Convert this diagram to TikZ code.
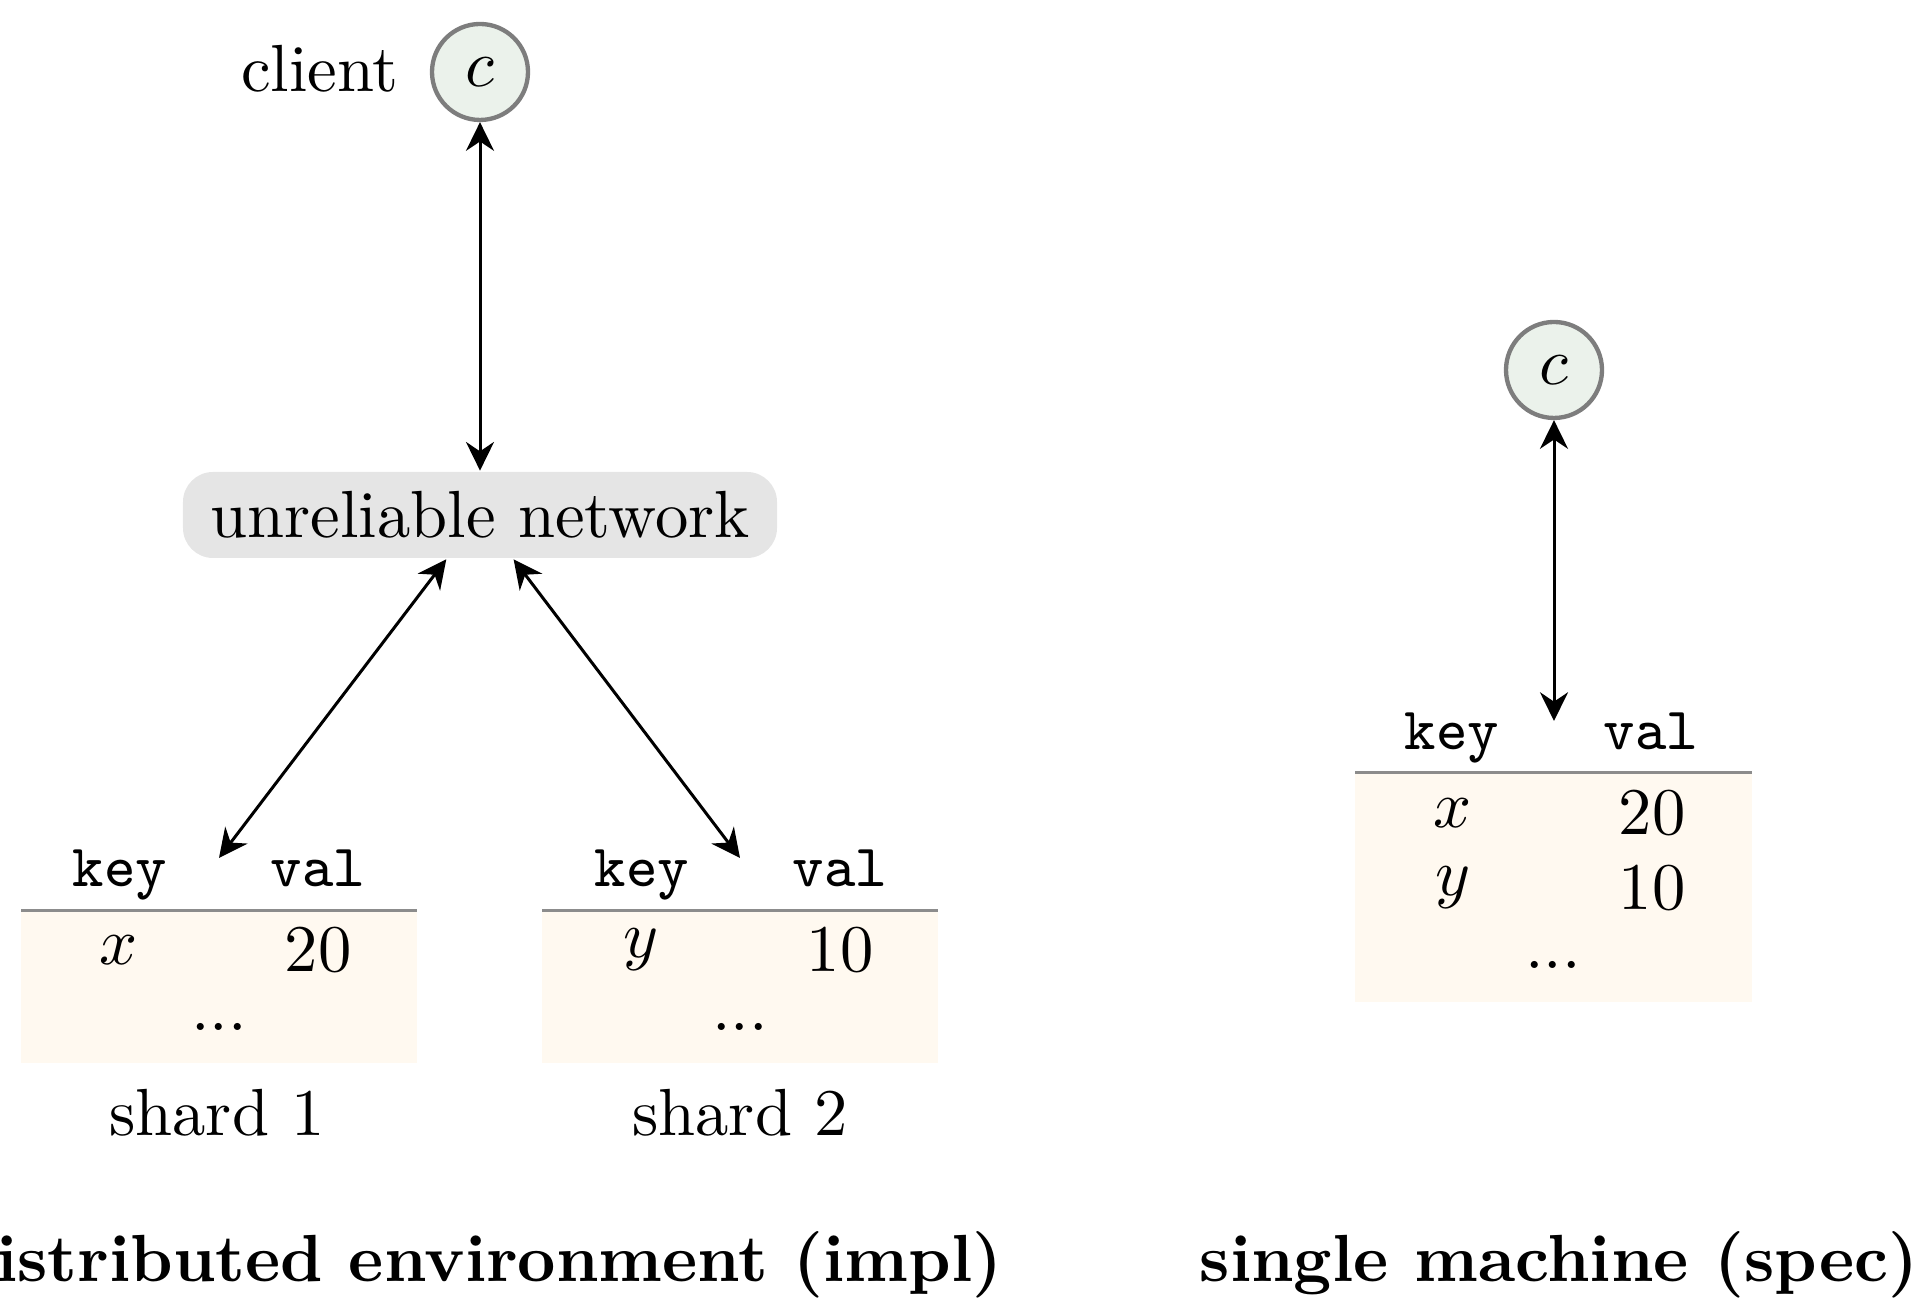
\documentclass[tikz,border=0pt]{standalone}
\usetikzlibrary{arrows.meta}

\definecolor{clientfill}{RGB}{235,242,235}
\definecolor{ringgray}{RGB}{125,125,125}
\definecolor{netfill}{RGB}{229,229,229}
\definecolor{tablefill}{RGB}{255,249,240}
\definecolor{rulegray}{RGB}{140,140,140}

\begin{document}
\begin{tikzpicture}[x=0.15pt,y=-0.15pt,
  proc/.style={circle, draw=ringgray, line width=0.65pt, fill=clientfill,
    minimum size=14.4pt, inner sep=0pt},
  netbox/.style={fill=netfill, rounded corners=4.5pt, minimum width=89.1pt,
    minimum height=12.9pt, inner sep=0pt},
  hdr/.style={font=\small\ttfamily, anchor=base, inner sep=0pt},
  cell/.style={inner sep=0pt},
  lbl/.style={anchor=base, inner sep=0pt},
  heading/.style={font=\bfseries, anchor=base, inner sep=0pt},
  tablebg/.style={fill=tablefill},
  tablerule/.style={draw=rulegray, line width=0.45pt},
  link/.style={{Stealth[length=4.3pt,width=4.2pt,inset=1.4pt]}-{Stealth[length=4.3pt,width=4.2pt,inset=1.4pt]},
    line width=0.45pt}
]
\useasboundingbox (0,0) rectangle (1926,1300);

% ---- distributed side: client, network, two shards ----
\node[proc] (c1) at (480,72) {$c$};
\node[lbl] (clientlbl) at (320,92) {client};
\node[netbox] (net) at (480,515) {unreliable network};

% shard 1
\fill[tablebg] (21,911) rectangle (417,1063);
\draw[tablerule] (21,911) -- (417,911);
\node[hdr] (k1) at (120,887) {key};
\node[hdr] (v1) at (318,887) {val};
\node[cell] (x1) at (119,950) {$x$};
\node[cell] (n1) at (318,950) {20};
\node[cell] (d1) at (219,1026.5) {...};
\node[lbl] (s1) at (217,1136) {shard 1};
\coordinate (t1) at (219,858);

% shard 2
\fill[tablebg] (542,911) rectangle (938,1063);
\draw[tablerule] (542,911) -- (938,911);
\node[hdr] (k2) at (642,887) {key};
\node[hdr] (v2) at (840,887) {val};
\node[cell] (y2) at (641,950) {$y$};
\node[cell] (n2) at (840,950) {10};
\node[cell] (d2) at (740,1026.5) {...};
\node[lbl] (s2) at (740,1136) {shard 2};
\coordinate (t2) at (740,858);

% ---- single machine side ----
\node[proc] (c2) at (1554,370) {$c$};
\fill[tablebg] (1355,773) rectangle (1752,1002);
\draw[tablerule] (1355,773) -- (1752,773);
\node[hdr] (k3) at (1452,750) {key};
\node[hdr] (v3) at (1651,750) {val};
\node[cell] (x3) at (1453,813) {$x$};
\node[cell] (n3) at (1652,813) {20};
\node[cell] (y3) at (1453,888) {$y$};
\node[cell] (m3) at (1652,888) {10};
\node[cell] (d3) at (1553,965) {...};
\coordinate (t3) at (1554,721);

% ---- connectors ----
\draw[link] (c1) -- (net);
\draw[link] (net) -- (t1);
\draw[link] (net) -- (t2);
\draw[link] (c2) -- (t3);

% ---- captions ----
\node[heading] (impl) at (478,1282) {distributed environment (impl)};
\node[heading] (spec) at (1559,1282) {single machine (spec)};
\end{tikzpicture}
\end{document}
